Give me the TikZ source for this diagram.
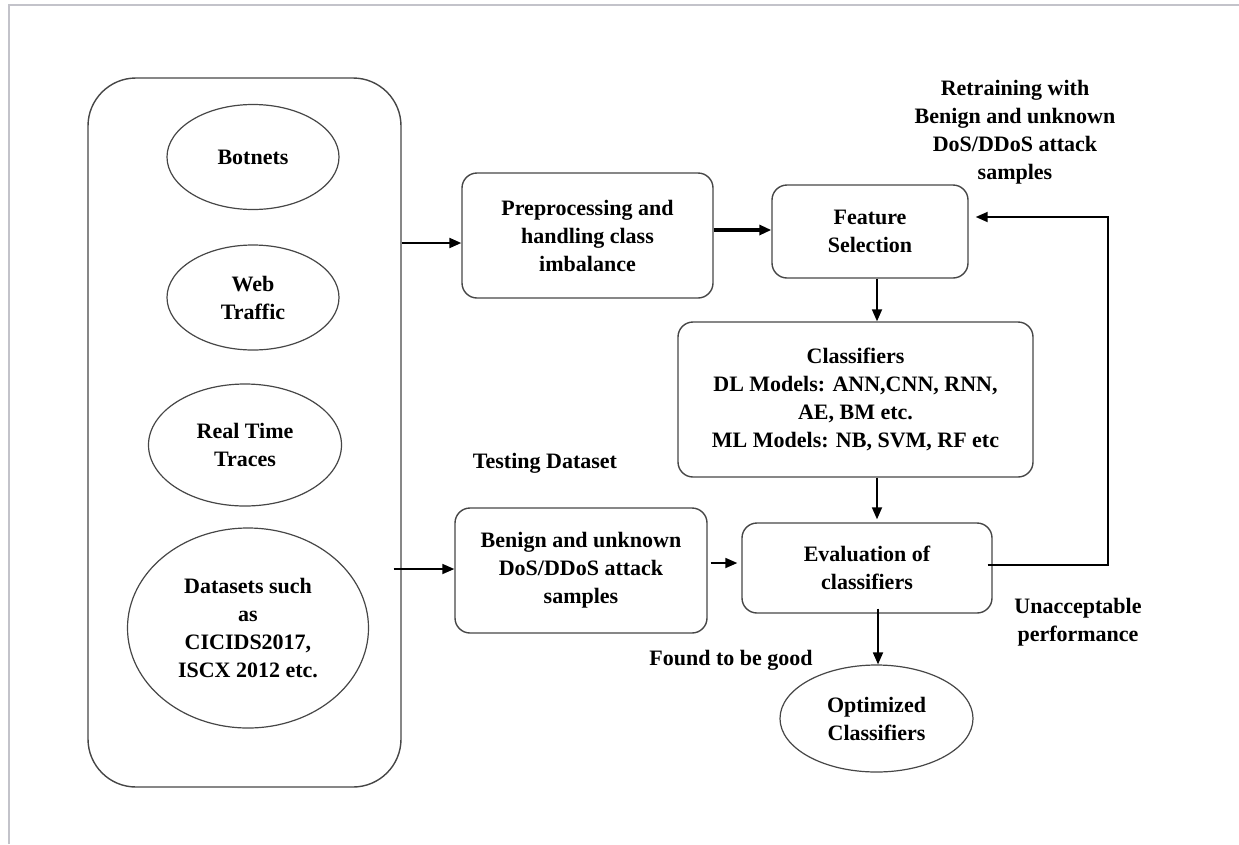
\documentclass[tikz,border=0pt]{standalone}
\usepackage{fontspec}
\setmainfont{Liberation Serif}
\usetikzlibrary{arrows.meta,shapes.geometric}
\definecolor{edgegray}{RGB}{70,70,70}
\definecolor{framegray}{RGB}{195,195,202}
\begin{document}
\begin{tikzpicture}[x=1pt,y=-1pt,
  font=\fontsize{22}{28}\selectfont\bfseries,
  box/.style={draw=edgegray, line width=1.4pt, rounded corners=15pt,
    align=center, inner sep=0pt},
  oval/.style={ellipse, draw=edgegray, line width=1.2pt, align=center, inner sep=0pt},
  arr/.style={-{Triangle[length=12pt,width=10pt]}, line width=1.8pt},
  lbl/.style={align=center, inner sep=0pt}]
\useasboundingbox (0,0) rectangle (1239,844);
% page frame
\draw[framegray, line width=1.5pt] (9,844) -- (9,5) -- (1239,5);

% data sources
\node[box, rounded corners=48pt, minimum width=313pt, minimum height=709pt] (src) at (244.5,432.5) {};
\node[oval, minimum width=172pt, minimum height=105pt] (bot) at (253,157) {Botnets};
\node[oval, minimum width=172pt, minimum height=105pt] (web) at (253,297.5) {Web\\Traffic};
\node[oval, minimum width=193pt, minimum height=122pt] (rtt) at (245,445) {Real Time\\Traces};
\node[oval, minimum width=241pt, minimum height=200pt] (dsets) at (248,628) {Datasets such\\as\\CICIDS2017,\\ISCX 2012 etc.};

% processing pipeline
\node[box, minimum width=251pt, minimum height=125pt] (prep) at (587.5,235.5) {Preprocessing and\\handling class\\imbalance};
\node[box, minimum width=196pt, minimum height=93pt] (fs) at (870,231.5) {Feature\\Selection};
\node[box, minimum width=355pt, minimum height=155pt] (cls) at (855.5,399.5) {Classifiers\\DL Models: ANN,CNN, RNN,\\AE, BM etc.\\ML Models: NB, SVM, RF etc};
\node[box, minimum width=252pt, minimum height=125pt] (benign) at (581,570.5) {Benign and unknown\\DoS/DDoS attack\\samples};
\node[box, minimum width=250pt, minimum height=90pt] (eval) at (867,568) {Evaluation of\\classifiers};
\node[oval, minimum width=193pt, minimum height=107pt] (opt) at (876.5,718.5) {Optimized\\Classifiers};

% labels
\node[lbl] (retrain) at (1015,132) {Retraining with\\Benign and unknown\\DoS/DDoS attack\\samples};
\node[lbl] (testing) at (545,463) {Testing Dataset};
\node[lbl] (good) at (731,660) {Found to be good};
\node[lbl] (unacc) at (1078,622) {Unacceptable\\performance};

% connectors
\draw[arr, line width=2.2pt] (src.east |- 0,243) -- (prep.west |- 0,243);
\draw[arr, line width=3.4pt] (prep.east |- 0,230) -- (fs.west |- 0,230);
\draw[arr] (fs.south -| 877,0) -- (cls.north -| 877,0);
\draw[arr] (cls.south -| 877,0) -- ([yshift=3pt]eval.north -| 877,0);
\draw[arr] ([xshift=-8pt]src.east |- 0,569) -- (benign.west |- 0,569);
\draw[arr] ([xshift=3pt]benign.east |- 0,563) -- ([xshift=-4pt]eval.west |- 0,563);
\draw[arr] ([yshift=5pt]eval.south -| 878,0) -- (opt.north -| 878,0);
\coordinate (fbLow) at (1108,565);
\coordinate (fbHigh) at (1108,217);
\draw[arr] ([xshift=-5pt]eval.east |- fbLow) -- (fbLow) -- (fbHigh) -- ([xshift=7pt]fs.east |- fbHigh);
\end{tikzpicture}
\end{document}
